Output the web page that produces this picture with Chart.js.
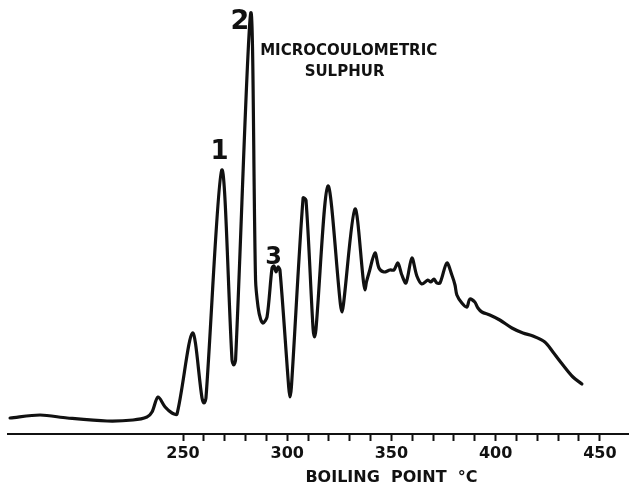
<!DOCTYPE html>
<html><head><meta charset="utf-8">
<script src="https://cdn.jsdelivr.net/npm/chart.js@4"></script>
<style>html,body{margin:0;padding:0;background:#fff}#wrap{width:629px;height:491px}</style>
</head><body><div id="wrap"><canvas id="c" width="629" height="491"></canvas></div>
<script>
// Boiling point (°C) of each traced point
const boilingPoint = [167.0,181.4,194.4,213.5,226.0,232.7,235.1,238.0,241.4,244.7,247.1,254.5,259.1,260.1,261.0,268.6,273.5,274.3,275.2,282.5,284.8,286.0,287.2,288.4,290.3,292.7,293.6,294.6,295.6,296.5,300.7,301.3,302.0,307.6,309.0,312.4,313.1,313.8,319.5,325.5,326.3,327.0,332.5,336.6,337.3,338.0,339.2,342.1,344.0,346.4,349.3,351.2,353.1,355.0,357.0,359.8,362.2,364.6,367.5,368.9,370.4,371.8,373.3,376.6,379.0,380.5,381.4,383.8,386.2,387.6,390.0,391.5,393.4,397.2,402.0,407.8,413.1,417.9,423.6,427.5,432.3,437.1,441.4];
// Microcoulometric sulphur response (arbitrary units)
const sulphurSignal = [16,19,16,13,14,17,22,37,27,21,20,101,36,31,36,264,74,69,74,421,154,127,115,111,117,166,168,162,167,164,47,37,47,236,234,105,97,105,248,130,122,130,225,152,144,152,161,181,166,162,164,164,171,159,151,176,158,150,154,152,155,151,151,171,159,149,139,131,127,135,132,126,122,119,114,106,101,98,92,82,69,57,50];
const tickValues = [250,260,270,280,290,300,310,320,330,340,350,360,370,380,390,400,410,420,430,440,450];
const labelledTicks = [250,300,350,400,450];
const peakNumbers = ['1','2','3'];
const peakNumberBP = [267.5,277.3,293.4];
const peakNumberSignal = [282,412,176.5];
const traceTitle = ['MICROCOULOMETRIC','SULPHUR'];
const traceTitleBP = [329.5,327.5];
const traceTitleSignal = [383,362];
const axisTitle = 'BOILING  POINT  °C';
const axisTitleBP = 350;

const ink = '#111';
const textPlugin = {
  id: 'texts',
  afterDraw(chart) {
    const {ctx, scales: {x, y}} = chart;
    ctx.save();
    ctx.fillStyle = ink;
    ctx.textAlign = 'center';
    ctx.textBaseline = 'middle';
    const sizes = [26, 27, 24];
    peakNumbers.forEach((t, i) => {
      ctx.font = 'bold ' + sizes[i] + 'px "DejaVu Sans"';
      ctx.fillText(t, x.getPixelForValue(peakNumberBP[i]), y.getPixelForValue(peakNumberSignal[i]));
    });
    ctx.font = 'bold 15px "DejaVu Sans"';
    traceTitle.forEach((t, i) => {
      ctx.fillText(t, x.getPixelForValue(traceTitleBP[i]), y.getPixelForValue(traceTitleSignal[i]));
    });
    ctx.font = 'bold 16px "DejaVu Sans"';
    ctx.fillText(axisTitle, x.getPixelForValue(axisTitleBP), chart.height - 13);
    ctx.restore();
  }
};

new Chart(document.getElementById('c'), {
  type: 'line',
  data: {
    datasets: [{
      data: boilingPoint.map((v, i) => ({x: v, y: sulphurSignal[i]})),
      borderColor: ink,
      borderWidth: 3.2,
      pointRadius: 0,
      tension: 0.3,
      borderJoinStyle: 'round',
      borderCapStyle: 'round',
      fill: false
    }]
  },
  options: {
    responsive: false,
    animation: false,
    devicePixelRatio: 1,
    layout: {padding: {left: 8, right: 0, top: 0, bottom: 0}},
    plugins: {legend: {display: false}, tooltip: {enabled: false}},
    scales: {
      x: {
        type: 'linear',
        min: 166,
        max: 464,
        afterBuildTicks: (s) => { s.ticks = tickValues.map(v => ({value: v})); },
        afterFit: (s) => { s.height = 57; },
        grid: {display: true, drawOnChartArea: false, drawTicks: true, tickLength: 7, tickWidth: 2, tickColor: ink},
        border: {display: true, color: ink, width: 2},
        ticks: {
          autoSkip: false, maxRotation: 0, padding: 3, color: ink,
          font: {family: 'DejaVu Sans', size: 16, weight: 'bold'},
          callback: (v) => labelledTicks.includes(v) ? String(v) : ''
        }
      },
      y: {display: false, min: 0, max: 434}
    }
  },
  plugins: [textPlugin]
});
</script>
</body></html>
